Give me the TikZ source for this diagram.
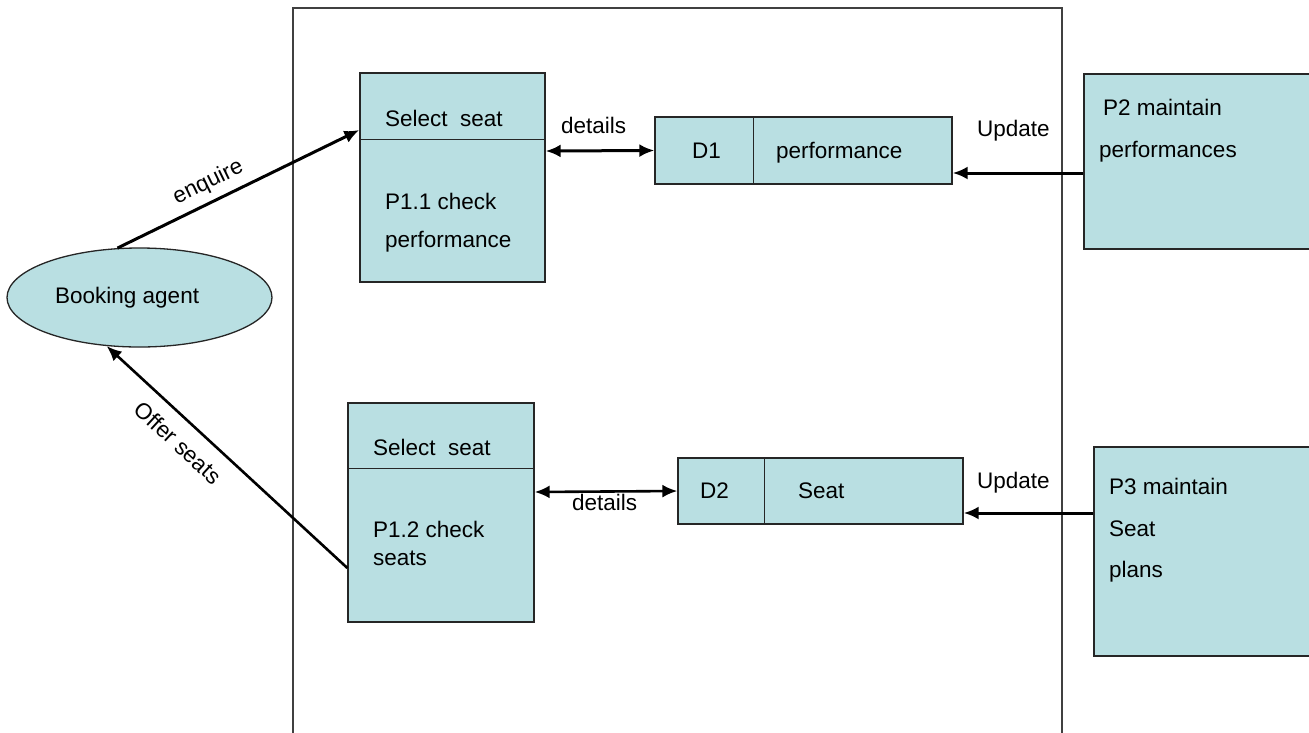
\documentclass[tikz,border=0pt]{standalone}
\usepackage{fontspec}
\setmainfont{Liberation Sans}
\usetikzlibrary{arrows.meta,shapes.geometric}

\definecolor{boxfill}{RGB}{185,223,226}
\definecolor{framegray}{RGB}{64,64,64}

\tikzset{
  procbox/.style={draw=black!85, line width=1.3pt, fill=boxfill, rectangle, inner sep=0pt},
  storebox/.style={procbox},
  agentshape/.style={draw=black!85, line width=1.3pt, fill=boxfill, ellipse, inner sep=0pt},
  txt/.style={anchor=base west, inner sep=0pt, font=\fontsize{22.5}{27}\selectfont},
  lbl/.style={inner sep=0pt, font=\fontsize{22.5}{27}\selectfont},
  flow/.style={line width=3pt, -{Latex[length=15pt,width=13pt]}},
  dflow/.style={line width=3pt, {Latex[length=15pt,width=13pt]}-{Latex[length=15pt,width=13pt]}},
}

\begin{document}
\begin{tikzpicture}[x=1pt,y=-1pt]
  \clip (0,0) rectangle (1309,732);
  \fill[white] (0,0) rectangle (1309,732);

  % system boundary
  \draw[framegray, line width=1.5pt] (293,8) rectangle (1062,745);

  % external entity
  \node[agentshape, minimum width=265pt, minimum height=99pt] (agent) at (139.5,297.5) {};
  \node[txt] (agenttxt) at (55,303) {Booking agent};

  % process P1.1
  \node[procbox, minimum width=185pt, minimum height=209pt] (p11) at (452.5,177.5) {};
  \draw[black!85, line width=1.3pt] ([yshift=-67pt]p11.north west) -- ([yshift=-67pt]p11.north east);
  \node[txt] (p11a) at (385,126) {Select\ \ seat};
  \node[txt] (p11b) at (385,209) {P1.1 check};
  \node[txt] (p11c) at (385,247) {performance};

  % process P1.2
  \node[procbox, minimum width=186pt, minimum height=219pt] (p12) at (441,512.5) {};
  \draw[black!85, line width=1.3pt] ([yshift=-66pt]p12.north west) -- ([yshift=-66pt]p12.north east);
  \node[txt] (p12a) at (373,455) {Select\ \ seat};
  \node[txt] (p12b) at (373,537) {P1.2 check};
  \node[txt] (p12c) at (373,565) {seats};

  % data store D1
  \node[storebox, minimum width=297pt, minimum height=67pt] (d1) at (803.5,150.5) {};
  \draw[black!85, line width=1.3pt] ([xshift=99pt]d1.north west) -- ([xshift=99pt]d1.south west);
  \node[txt] (d1a) at (692,158) {D1};
  \node[txt] (d1b) at (776,158) {performance};

  % data store D2
  \node[storebox, minimum width=285pt, minimum height=66pt] (d2) at (820.5,491) {};
  \draw[black!85, line width=1.3pt] ([xshift=87pt]d2.north west) -- ([xshift=87pt]d2.south west);
  \node[txt] (d2a) at (700,498) {D2};
  \node[txt] (d2b) at (798,498) {Seat};

  % process P2
  \node[procbox, minimum width=232pt, minimum height=175pt] (p2) at (1200,161.5) {};
  \node[txt] (p2a) at (1103,115) {P2 maintain};
  \node[txt] (p2b) at (1099,157) {performances};

  % process P3
  \node[procbox, minimum width=222pt, minimum height=209pt] (p3) at (1205,551.5) {};
  \node[txt] (p3a) at (1109,494) {P3 maintain};
  \node[txt] (p3b) at (1109,536) {Seat};
  \node[txt] (p3c) at (1109,577) {plans};

  % data flows
  \draw[flow] (agent.114) -- node[lbl, pos=0.41, sloped, above=7pt] (enq) {enquire} ([yshift=47.5pt]p11.west);
  \draw[flow, line width=2.6pt] ([yshift=-55.5pt]p12.west) -- node[lbl, pos=0.64, sloped, below=13pt] (offer) {Offer seats} (agent.236);

  \draw[dflow] ([yshift=26.5pt]p11.east) -- (d1.west);
  \node[txt] (det1) at (561,133) {details};
  \draw[dflow, line width=2.6pt] ([yshift=20.5pt]p12.east) -- (d2.west);
  \node[txt] (det2) at (572,510) {details};

  \draw[flow] ([yshift=-11.5pt]p2.west) -- ([yshift=-22.5pt]d1.east);
  \node[txt] (upd1) at (977,136) {Update};
  \draw[flow] ([yshift=38.5pt]p3.west) -- ([yshift=-22pt]d2.east);
  \node[txt] (upd2) at (977,488) {Update};
\end{tikzpicture}
\end{document}
